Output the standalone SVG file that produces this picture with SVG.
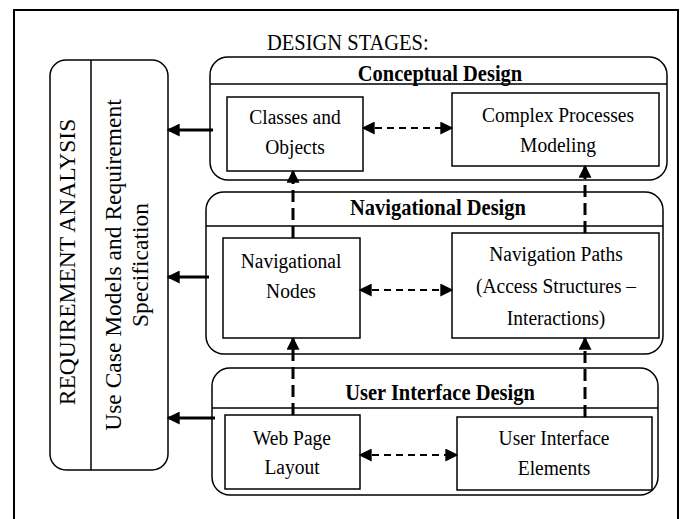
<svg xmlns="http://www.w3.org/2000/svg" width="682" height="519" viewBox="0 0 682 519">
<defs>
<style>
.frame{fill:none;stroke:#000;stroke-width:2}
.grp{fill:#fff;stroke:#000;stroke-width:1.5}
.box{fill:#fff;stroke:#000;stroke-width:1.5}
.ln{stroke:#000;stroke-width:1.5}
.t{font-family:"Liberation Serif","Times New Roman",serif;font-size:19.5px;fill:#000;text-anchor:middle}
.b{font-family:"Liberation Serif","Times New Roman",serif;font-size:20.5px;font-weight:bold;fill:#000;text-anchor:middle}
.r{font-family:"Liberation Serif","Times New Roman",serif;font-size:23.5px;fill:#000;text-anchor:middle}
.solid{stroke:#000;stroke-width:3;fill:none;marker-end:url(#head)}
.vdash{stroke:#000;stroke-width:3;fill:none;stroke-dasharray:12 6;marker-end:url(#head)}
.hdash{stroke:#000;stroke-width:2;fill:none;stroke-dasharray:7 5;marker-start:url(#headS);marker-end:url(#head)}
</style>
<marker id="head" viewBox="0 0 10 10" refX="9" refY="5" markerWidth="13" markerHeight="13" markerUnits="userSpaceOnUse" orient="auto">
<path d="M0,0 L10,5 L0,10 z" fill="#000"/>
</marker>
<marker id="headS" viewBox="0 0 10 10" refX="1" refY="5" markerWidth="13" markerHeight="13" markerUnits="userSpaceOnUse" orient="auto">
<path d="M10,0 L0,5 L10,10 z" fill="#000"/>
</marker>
</defs>
<rect width="682" height="519" fill="#fff"/>
<rect class="frame" x="14" y="10" width="664" height="520"/>
<text transform="translate(267,50) scale(1,1.12)" style="font-family:'Liberation Serif','Times New Roman',serif;font-size:20.5px;fill:#000">DESIGN STAGES:</text>

<g id="requirement">
<rect class="box" x="50" y="60" width="118" height="410" rx="16"/>
<line class="ln" x1="91" y1="60" x2="91" y2="470"/>
<text class="r" transform="translate(75,262) rotate(-90)">REQUIREMENT ANALYSIS</text>
<text class="r" transform="translate(121,265) rotate(-90)">Use Case Models and Requirement</text>
<text class="r" transform="translate(148,265) rotate(-90)">Specification</text>
</g>

<g id="conceptual">
<rect class="grp" x="210" y="57" width="457" height="123" rx="18"/>
<line class="ln" x1="210" y1="84" x2="667" y2="84"/>
<text class="b" transform="translate(440,81) scale(1,1.12)">Conceptual Design</text>
</g>
<g id="classes">
<rect class="box" x="227" y="97" width="136" height="74"/>
<text class="t" transform="translate(295,124) scale(1,1.12)">Classes and</text>
<text class="t" transform="translate(295,154) scale(1,1.12)">Objects</text>
</g>
<g id="complex">
<rect class="box" x="452" y="93" width="207" height="73"/>
<text class="t" transform="translate(558,122) scale(1,1.12)">Complex Processes</text>
<text class="t" transform="translate(558,152) scale(1,1.12)">Modeling</text>
</g>

<g id="navigational">
<rect class="grp" x="206" y="192" width="457" height="162" rx="18"/>
<line class="ln" x1="206" y1="226" x2="663" y2="226"/>
<text class="b" transform="translate(438,215) scale(1,1.12)">Navigational Design</text>
</g>
<g id="navnodes">
<rect class="box" x="223" y="238" width="137" height="100"/>
<text class="t" transform="translate(291,268) scale(1,1.12)">Navigational</text>
<text class="t" transform="translate(291,298) scale(1,1.12)">Nodes</text>
</g>
<g id="navpaths">
<rect class="box" x="452" y="233" width="207" height="105"/>
<text class="t" transform="translate(556,261) scale(1,1.12)">Navigation Paths</text>
<text class="t" transform="translate(556,293) scale(1,1.12)">(Access Structures –</text>
<text class="t" transform="translate(556,325) scale(1,1.12)">Interactions)</text>
</g>

<g id="uidesign">
<rect class="grp" x="212" y="368" width="446" height="127" rx="18"/>
<line class="ln" x1="212" y1="408" x2="658" y2="408"/>
<text class="b" transform="translate(440,400) scale(1,1.12)">User Interface Design</text>
</g>
<g id="webpage">
<rect class="box" x="225" y="415" width="135" height="74"/>
<text class="t" transform="translate(292,445) scale(1,1.12)">Web Page</text>
<text class="t" transform="translate(292,474) scale(1,1.12)">Layout</text>
</g>
<g id="uielements">
<rect class="box" x="457" y="417" width="195" height="73"/>
<text class="t" transform="translate(554,445) scale(1,1.12)">User Interface</text>
<text class="t" transform="translate(554,475) scale(1,1.12)">Elements</text>
</g>

<g id="connectors">
<line class="solid" x1="213" y1="130" x2="168" y2="130"/>
<line class="solid" x1="209" y1="277" x2="168" y2="277"/>
<line class="solid" x1="215" y1="418" x2="168" y2="418"/>
<line class="vdash" x1="293" y1="238" x2="293" y2="171"/>
<line class="vdash" x1="293" y1="415" x2="293" y2="338"/>
<line class="vdash" x1="585" y1="233" x2="585" y2="166"/>
<line class="vdash" x1="585" y1="417" x2="585" y2="338"/>
<line class="hdash" x1="363" y1="128" x2="452" y2="128"/>
<line class="hdash" x1="360" y1="290" x2="452" y2="290"/>
<line class="hdash" x1="360" y1="455" x2="457" y2="455"/>
</g>
</svg>
